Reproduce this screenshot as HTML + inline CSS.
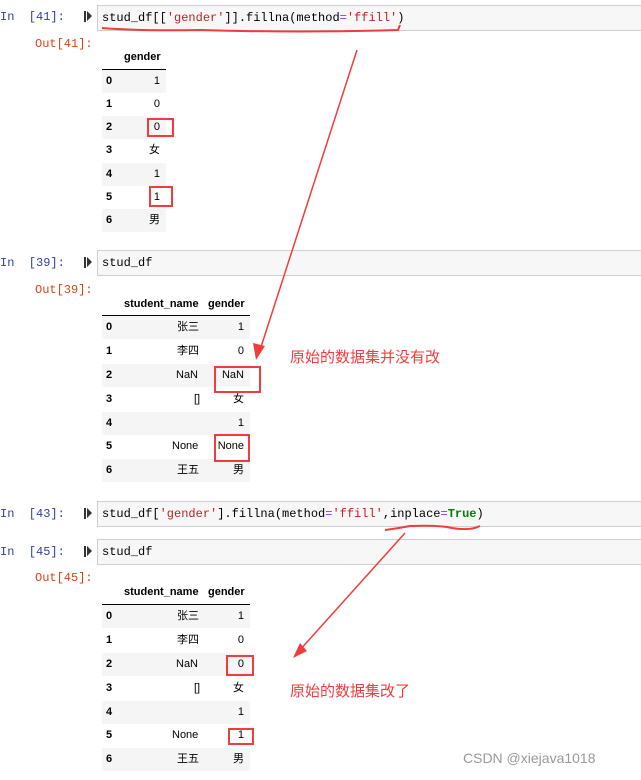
<!DOCTYPE html>
<html><head><meta charset="utf-8"><style>
body{margin:0;width:641px;height:780px;background:#fff;position:relative;overflow:hidden;font-family:"Liberation Sans","Noto Sans CJK SC",sans-serif;}
.a{position:absolute;white-space:nowrap}
.in{position:absolute;left:0;font-family:"Liberation Mono","Noto Sans CJK SC",monospace;font-size:12px;color:#303f9f}
.out{position:absolute;left:35px;font-family:"Liberation Mono",monospace;font-size:12px;color:#d84315}
.box{position:absolute;left:97px;width:550px;height:26px;background:#f7f7f7;border:1px solid #cfcfcf;box-sizing:border-box}
.code{position:absolute;left:102px;font-family:"Liberation Mono","Noto Sans CJK SC",monospace;font-size:12px;color:#000}
.row{position:absolute;left:102px;height:23px;font-size:11px;color:#000}
.g{background:#f5f5f5}
.row span{position:absolute;top:0;line-height:23px;height:23px}
.hd{position:absolute;font-size:11px;font-weight:bold}
.rule{position:absolute;left:102px;height:1px;background:#000}
.rb{position:absolute;border:2px solid #f03c3c;box-sizing:border-box}
.s{color:#ba2121}.k{color:#aa22ff}.t{color:#008000;font-weight:bold}
.note{position:absolute;color:#f03c3c;font-size:15px}
</style></head><body>

<!-- cell 41 -->
<div class="in" style="top:10px">In&nbsp;&nbsp;[41]:</div>
<div class="a" style="left:84px;top:11px;width:2px;height:11px;background:#333"></div><div class="a" style="left:87px;top:11px;width:0;height:0;border-left:5px solid #333;border-top:5px solid transparent;border-bottom:5px solid transparent"></div>
<div class="box" style="top:5px"></div>
<div class="code" style="top:11px">stud_df[[<span class="s">'gender'</span>]].fillna(method<span class="k">=</span><span class="s">'ffill'</span>)</div>
<div class="out" style="top:37px">Out[41]:</div>
<div class="hd" style="left:124px;top:51px">gender</div>
<div class="rule" style="top:69px;width:64px"></div>
<div class="row g" style="top:70px;width:64px"><span style="left:4px;font-weight:bold">0</span><span style="right:6px">1</span></div>
<div class="row" style="top:93px;width:64px"><span style="left:4px;font-weight:bold">1</span><span style="right:6px">0</span></div>
<div class="row g" style="top:116px;width:64px"><span style="left:4px;font-weight:bold">2</span><span style="right:6px">0</span></div>
<div class="row" style="top:139px;width:64px"><span style="left:4px;font-weight:bold">3</span><span style="right:6px">女</span></div>
<div class="row g" style="top:163px;width:64px"><span style="left:4px;font-weight:bold">4</span><span style="right:6px">1</span></div>
<div class="row" style="top:186px;width:64px"><span style="left:4px;font-weight:bold">5</span><span style="right:6px">1</span></div>
<div class="row g" style="top:209px;width:64px"><span style="left:4px;font-weight:bold">6</span><span style="right:6px">男</span></div>
<div class="rb" style="left:147px;top:118px;width:27px;height:19px"></div>
<div class="rb" style="left:149px;top:186px;width:24px;height:21px"></div>

<!-- cell 39 -->
<div class="in" style="top:256px">In&nbsp;&nbsp;[39]:</div>
<div class="a" style="left:84px;top:257px;width:2px;height:11px;background:#333"></div><div class="a" style="left:87px;top:257px;width:0;height:0;border-left:5px solid #333;border-top:5px solid transparent;border-bottom:5px solid transparent"></div>
<div class="box" style="top:250px"></div>
<div class="code" style="top:256px">stud_df</div>
<div class="out" style="top:283px">Out[39]:</div>
<div class="hd" style="left:124px;top:298px">student_name</div>
<div class="hd" style="left:208px;top:298px">gender</div>
<div class="rule" style="top:315px;width:148px"></div>
<div class="row g" style="top:316px;width:148px"><span style="left:4px;font-weight:bold">0</span><span style="left:75px">张三</span><span style="right:6px">1</span></div>
<div class="row" style="top:340px;width:148px"><span style="left:4px;font-weight:bold">1</span><span style="left:75px">李四</span><span style="right:6px">0</span></div>
<div class="row g" style="top:364px;width:148px"><span style="left:4px;font-weight:bold">2</span><span style="left:74px">NaN</span><span style="right:6px">NaN</span></div>
<div class="row" style="top:388px;width:148px"><span style="left:4px;font-weight:bold">3</span><span style="left:92px">[]</span><span style="right:6px">女</span></div>
<div class="row g" style="top:412px;width:148px"><span style="left:4px;font-weight:bold">4</span><span style="right:6px">1</span></div>
<div class="row" style="top:435px;width:148px"><span style="left:4px;font-weight:bold">5</span><span style="left:70px">None</span><span style="right:6px">None</span></div>
<div class="row g" style="top:459px;width:148px"><span style="left:4px;font-weight:bold">6</span><span style="left:75px">王五</span><span style="right:6px">男</span></div>
<div class="rb" style="left:214px;top:366px;width:47px;height:27px"></div>
<div class="rb" style="left:214px;top:434px;width:36px;height:28px"></div>
<div class="note" style="left:290px;top:346px">原始的数据集并没有改</div>

<!-- cell 43 -->
<div class="in" style="top:507px">In&nbsp;&nbsp;[43]:</div>
<div class="a" style="left:84px;top:508px;width:2px;height:11px;background:#333"></div><div class="a" style="left:87px;top:508px;width:0;height:0;border-left:5px solid #333;border-top:5px solid transparent;border-bottom:5px solid transparent"></div>
<div class="box" style="top:501px"></div>
<div class="code" style="top:507px">stud_df[<span class="s">'gender'</span>].fillna(method<span class="k">=</span><span class="s">'ffill'</span>,inplace<span class="k">=</span><span class="t">True</span>)</div>

<!-- cell 45 -->
<div class="in" style="top:545px">In&nbsp;&nbsp;[45]:</div>
<div class="a" style="left:84px;top:546px;width:2px;height:11px;background:#333"></div><div class="a" style="left:87px;top:546px;width:0;height:0;border-left:5px solid #333;border-top:5px solid transparent;border-bottom:5px solid transparent"></div>
<div class="box" style="top:539px"></div>
<div class="code" style="top:545px">stud_df</div>
<div class="out" style="top:571px">Out[45]:</div>
<div class="hd" style="left:124px;top:586px">student_name</div>
<div class="hd" style="left:208px;top:586px">gender</div>
<div class="rule" style="top:604px;width:148px"></div>
<div class="row g" style="top:605px;width:148px"><span style="left:4px;font-weight:bold">0</span><span style="left:75px">张三</span><span style="right:6px">1</span></div>
<div class="row" style="top:629px;width:148px"><span style="left:4px;font-weight:bold">1</span><span style="left:75px">李四</span><span style="right:6px">0</span></div>
<div class="row g" style="top:653px;width:148px"><span style="left:4px;font-weight:bold">2</span><span style="left:74px">NaN</span><span style="right:6px">0</span></div>
<div class="row" style="top:677px;width:148px"><span style="left:4px;font-weight:bold">3</span><span style="left:92px">[]</span><span style="right:6px">女</span></div>
<div class="row g" style="top:701px;width:148px"><span style="left:4px;font-weight:bold">4</span><span style="right:6px">1</span></div>
<div class="row" style="top:724px;width:148px"><span style="left:4px;font-weight:bold">5</span><span style="left:70px">None</span><span style="right:6px">1</span></div>
<div class="row g" style="top:748px;width:148px"><span style="left:4px;font-weight:bold">6</span><span style="left:75px">王五</span><span style="right:6px">男</span></div>
<div class="rb" style="left:226px;top:655px;width:28px;height:21px"></div>
<div class="rb" style="left:228px;top:728px;width:26px;height:17px"></div>
<div class="note" style="left:290px;top:680px">原始的数据集改了</div>
<div class="a" style="left:463px;top:750px;font-size:14px;color:#999">CSDN @xiejava1018</div>

<svg width="641" height="780" style="position:absolute;left:0;top:0" xmlns="http://www.w3.org/2000/svg">
<path d="M102 28 Q140 31 200 30 Q300 33 398 30 L400 25" stroke="#f03c3c" stroke-width="2" fill="none"/>
<path d="M385 530 Q400 528 410 526 Q440 525 452 528 Q470 531 480 526" stroke="#f03c3c" stroke-width="2" fill="none"/>
<line x1="357" y1="50" x2="260" y2="350" stroke="#f03c3c" stroke-width="1.5"/>
<polygon points="256,360 253,343 265,346" fill="#f03c3c"/>
<line x1="405" y1="533" x2="299" y2="651" stroke="#f03c3c" stroke-width="1.5"/>
<polygon points="293,658 300,643 307,651" fill="#f03c3c"/>
</svg>
</body></html>
